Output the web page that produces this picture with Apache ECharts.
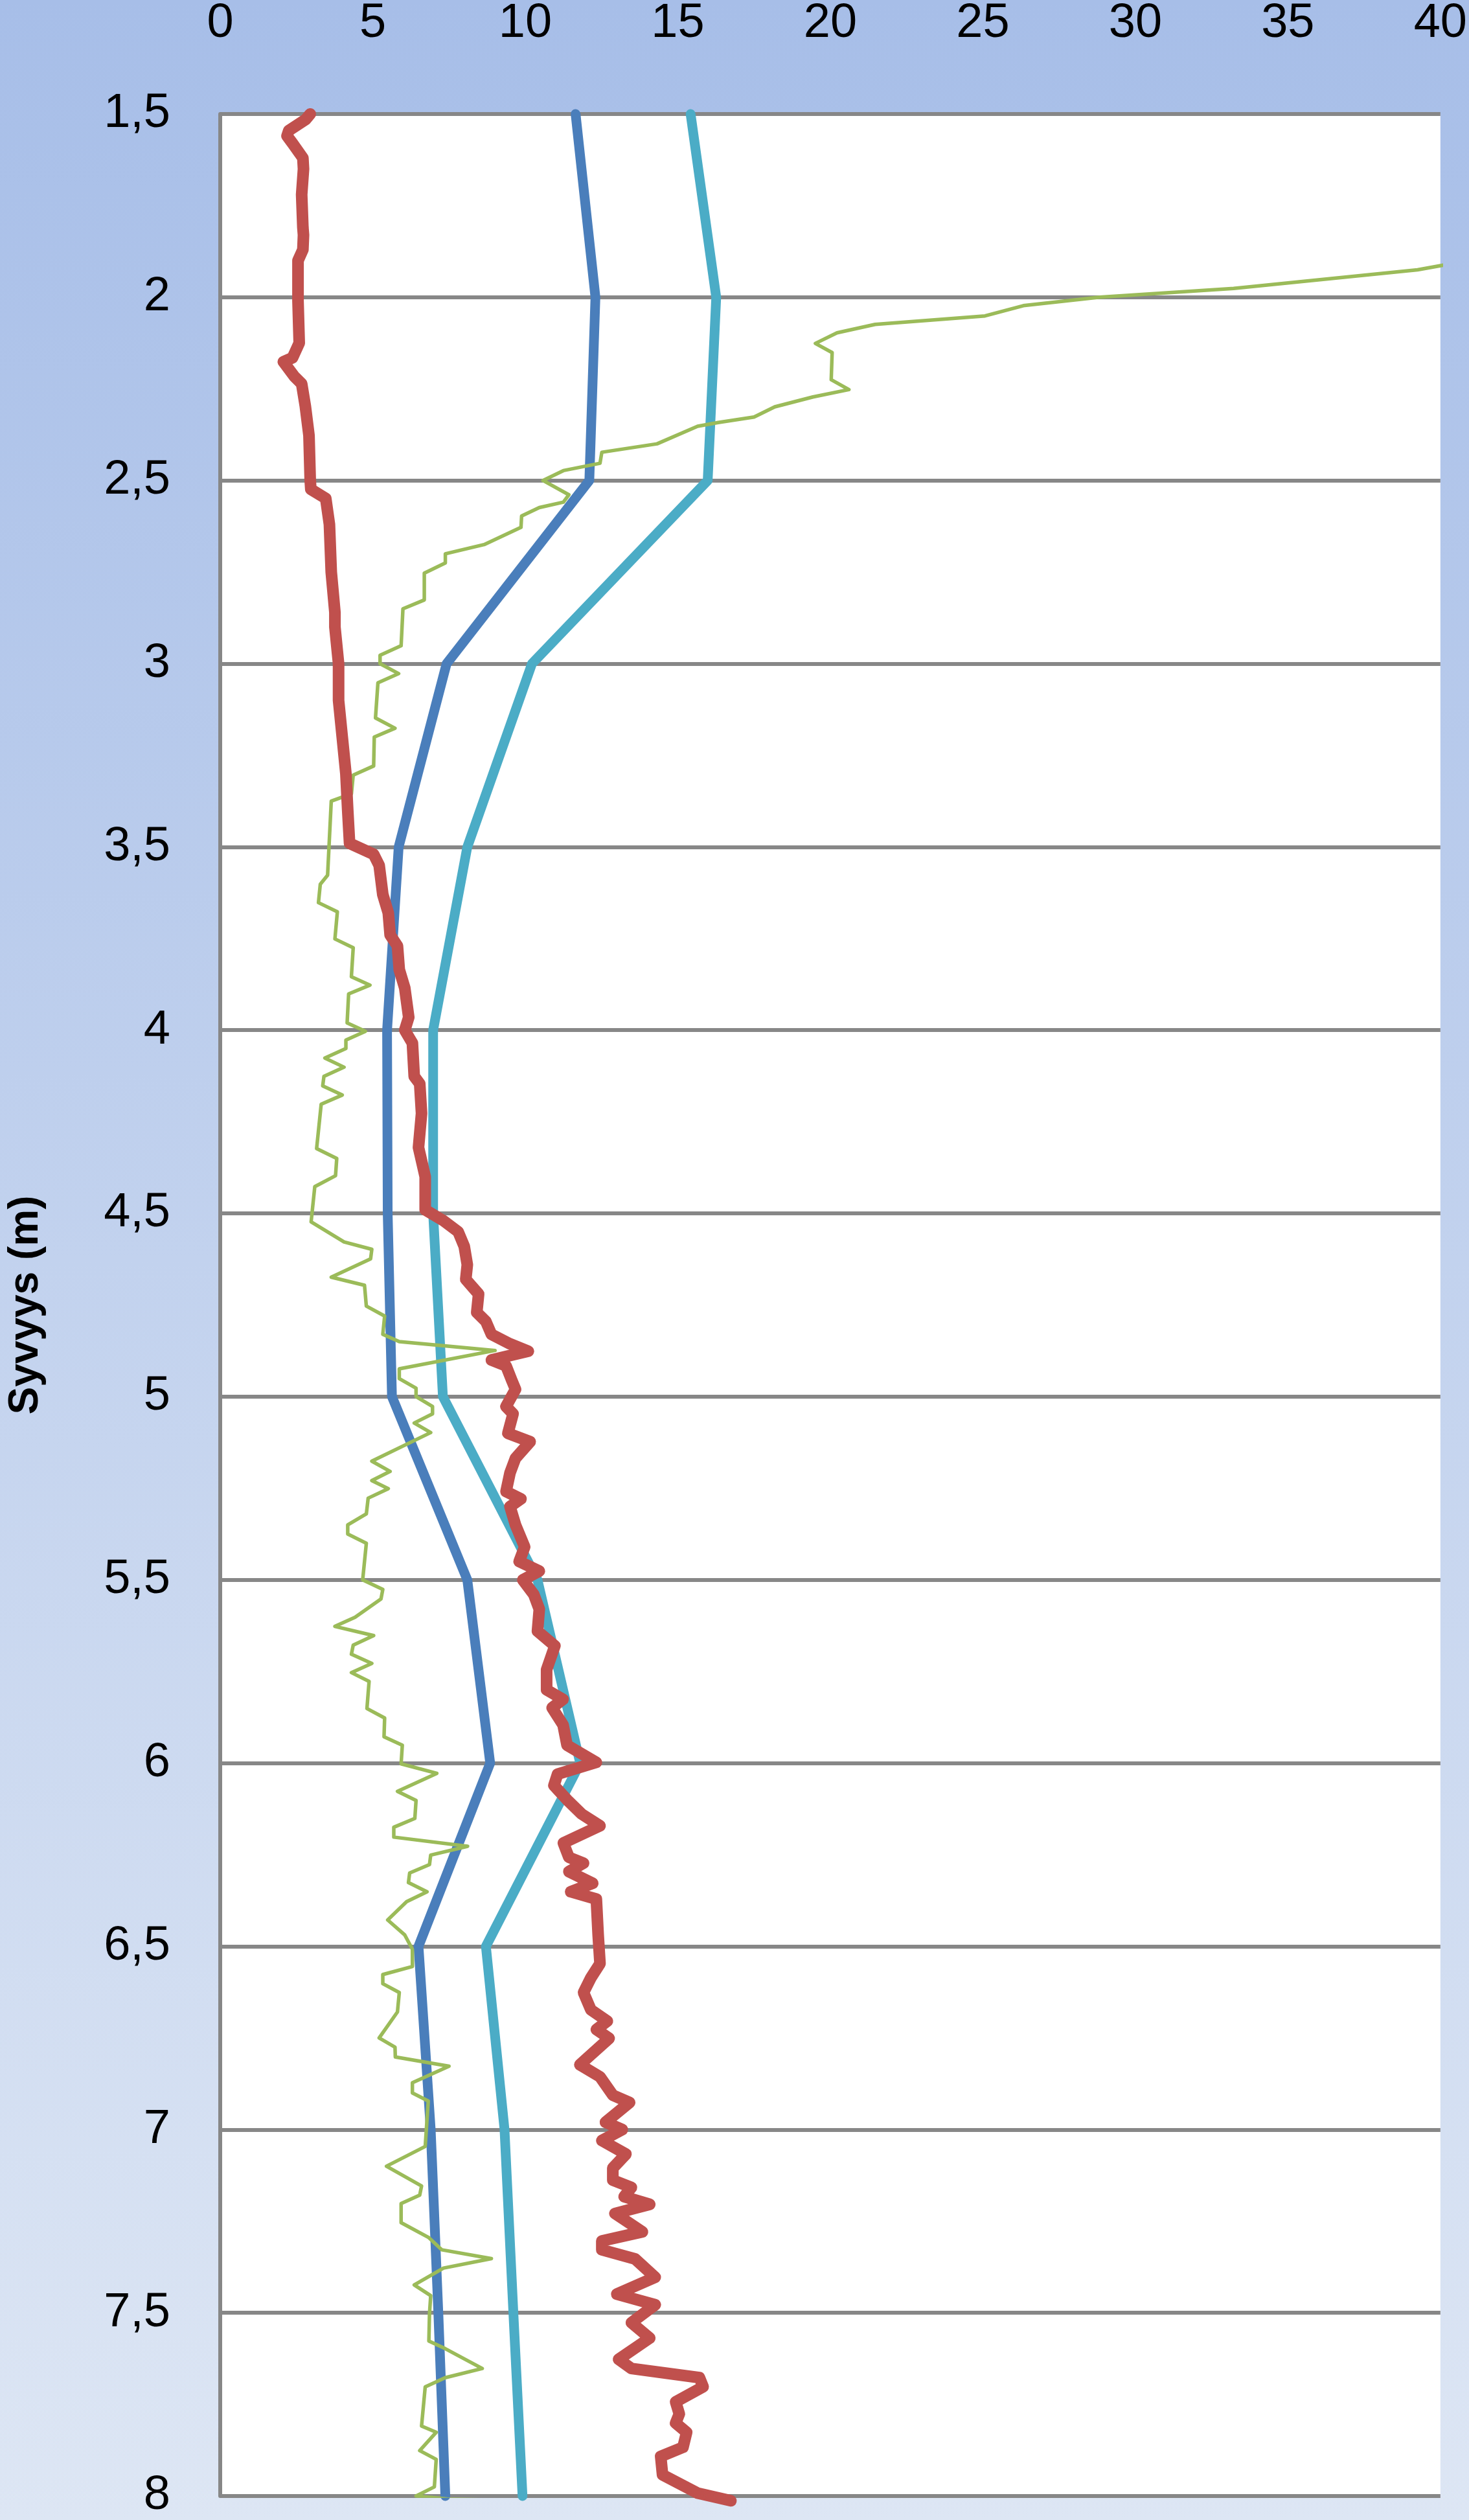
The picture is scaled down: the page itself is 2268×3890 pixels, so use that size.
<!DOCTYPE html>
<html>
<head>
<meta charset="utf-8">
<script src="https://cdn.jsdelivr.net/npm/echarts@6/dist/echarts.min.js"></script>
<style>
html,body{margin:0;padding:0;}
#chart{width:2268px;height:3890px;}
</style>
</head>
<body>
<div id="chart"></div>
<script>
// ---- Data (depth in m) ----
const xTicks = [0, 5, 10, 15, 20, 25, 30, 35, 40];

const blueDepth = [1.5, 2.0, 2.5, 3.0, 3.5, 4.0, 4.5, 5.0, 5.5, 6.0, 6.5, 7.0, 7.5, 8.0];
const blueValue = [11.65, 12.3, 12.1, 7.42, 5.85, 5.47, 5.49, 5.63, 8.1, 8.85, 6.5, 6.9, 7.15, 7.38];

const cyanDepth = [1.5, 2.0, 2.5, 3.0, 3.5, 4.0, 4.5, 5.0, 5.5, 6.0, 6.5, 7.0, 7.5, 8.0];
const cyanValue = [15.42, 16.26, 15.98, 10.22, 8.1, 6.98, 6.98, 7.3, 10.4, 11.8, 8.71, 9.32, 9.61, 9.91];

const redDepth = [1.50,1.515,1.545,1.56,1.58,1.62,1.65,1.72,1.81,1.83,1.87,1.90,2.01,2.125,2.165,2.176,2.216,2.236,2.297,2.377,2.498,2.524,2.549,2.62,2.75,2.86,2.90,3.00,3.10,3.20,3.30,3.40,3.49,3.52,3.55,3.63,3.68,3.74,3.77,3.835,3.885,3.965,4.00,4.035,4.126,4.146,4.227,4.32,4.40,4.49,4.52,4.55,4.59,4.64,4.68,4.72,4.77,4.795,4.83,4.856,4.876,4.90,4.916,4.956,4.98,5.027,5.047,5.10,5.123,5.168,5.208,5.259,5.279,5.30,5.35,5.41,5.45,5.476,5.50,5.54,5.58,5.64,5.68,5.745,5.80,5.826,5.849,5.896,5.951,5.998,6.03,6.061,6.10,6.139,6.171,6.218,6.257,6.273,6.296,6.328,6.351,6.371,6.469,6.547,6.586,6.626,6.673,6.704,6.727,6.751,6.823,6.856,6.906,6.926,6.98,7.0,7.03,7.067,7.105,7.138,7.158,7.183,7.204,7.229,7.279,7.304,7.328,7.353,7.403,7.449,7.478,7.527,7.569,7.627,7.652,7.677,7.702,7.743,7.776,7.801,7.826,7.867,7.892,7.942,7.992,8.013];
const redValue = [2.95,2.80,2.25,2.19,2.37,2.71,2.73,2.67,2.71,2.73,2.71,2.55,2.55,2.59,2.37,2.07,2.43,2.67,2.79,2.91,2.95,2.97,3.46,3.58,3.64,3.76,3.76,3.88,3.88,4.00,4.12,4.18,4.24,5.03,5.21,5.33,5.51,5.57,5.81,5.87,6.05,6.18,6.05,6.30,6.36,6.54,6.60,6.50,6.72,6.72,7.32,7.80,8.00,8.10,8.05,8.47,8.41,8.71,8.89,9.50,10.10,8.89,9.37,9.56,9.68,9.37,9.60,9.43,10.16,9.68,9.50,9.37,9.86,9.50,9.68,9.98,9.80,10.46,9.92,10.28,10.46,10.40,10.97,10.70,10.70,11.24,10.88,11.24,11.37,12.33,11.06,10.94,11.37,11.85,12.45,11.25,11.43,11.91,11.43,12.21,11.49,12.33,12.39,12.45,12.15,11.91,12.15,12.69,12.33,12.75,11.79,12.45,12.87,13.42,12.63,13.18,12.51,13.30,12.87,12.87,13.48,13.24,14.08,12.94,13.84,12.51,12.51,13.60,14.26,13.00,14.26,13.48,14.08,13.06,13.48,15.71,15.83,14.93,15.05,14.93,15.29,15.17,14.44,14.50,15.65,16.74];

const greenDepth = [1.905,1.925,1.976,2.0,2.023,2.051,2.074,2.097,2.126,2.151,2.225,2.252,2.272,2.299,2.327,2.342,2.352,2.40,2.423,2.453,2.473,2.50,2.539,2.559,2.574,2.597,2.628,2.675,2.70,2.725,2.753,2.826,2.85,2.951,2.977,3.0,3.027,3.052,3.148,3.176,3.20,3.279,3.304,3.355,3.375,3.577,3.602,3.652,3.677,3.751,3.775,3.854,3.877,3.901,3.98,4.003,4.027,4.05,4.076,4.101,4.126,4.152,4.177,4.202,4.323,4.35,4.397,4.427,4.523,4.578,4.598,4.624,4.674,4.696,4.753,4.78,4.83,4.85,4.874,4.924,4.951,4.977,5.0,5.027,5.047,5.072,5.098,5.176,5.204,5.229,5.251,5.277,5.32,5.35,5.375,5.40,5.50,5.526,5.552,5.602,5.627,5.652,5.678,5.703,5.728,5.753,5.777,5.851,5.877,5.928,5.951,6.002,6.028,6.077,6.102,6.151,6.175,6.202,6.227,6.251,6.277,6.30,6.326,6.351,6.378,6.428,6.469,6.508,6.555,6.577,6.602,6.626,6.679,6.75,6.775,6.802,6.827,6.872,6.90,6.922,7.046,7.10,7.154,7.179,7.202,7.254,7.295,7.328,7.352,7.378,7.424,7.453,7.503,7.577,7.598,7.652,7.677,7.702,7.809,7.826,7.876,7.90,7.975,8.0,8.008,8.015];
const greenValue = [40.6,39.25,33.22,28.83,26.33,25.07,21.47,20.22,19.51,20.06,20.03,20.61,19.43,18.18,17.5,16.32,15.65,14.32,12.51,12.45,11.25,10.58,11.43,11.25,10.46,9.88,9.86,8.65,7.38,7.38,6.69,6.69,5.99,5.93,5.24,5.24,5.85,5.17,5.09,5.73,5.05,5.03,4.36,4.30,3.64,3.52,3.28,3.22,3.84,3.76,4.36,4.30,4.91,4.21,4.16,4.76,4.12,4.12,3.43,4.06,3.40,3.36,4.00,3.31,3.16,3.82,3.78,3.10,2.98,4.06,4.97,4.93,3.64,4.73,4.79,5.39,5.33,5.87,9.01,5.87,5.87,6.42,6.42,6.96,6.96,6.36,6.90,4.97,5.57,4.97,5.51,4.85,4.79,4.18,4.18,4.79,4.67,5.33,5.27,4.42,3.76,5.03,4.36,4.30,4.97,4.30,4.88,4.81,5.39,5.37,5.97,5.93,7.10,5.81,6.42,6.38,5.69,5.69,8.11,6.90,6.86,6.21,6.17,6.78,6.11,5.49,6.05,6.30,6.30,5.33,5.33,5.87,5.81,5.21,5.73,5.74,7.50,6.30,6.30,6.82,6.72,5.45,6.60,6.54,5.93,5.93,6.84,7.26,8.89,7.32,6.36,6.90,6.86,6.84,7.38,8.59,7.38,6.72,6.60,7.08,6.54,7.08,7.02,6.42,7.44,10.94];

function pairs(vals, depths){ return vals.map((v,i)=>[v, depths[i]]); }

const chart = echarts.init(document.getElementById('chart'), null, {renderer:'canvas'});
const axisGray = '#878787';
const fontFam = 'Liberation Sans, Arial, sans-serif';

chart.setOption({
  animation: false,
  backgroundColor: {
    type: 'linear', x: 0, y: 0, x2: 0, y2: 1,
    colorStops: [{offset: 0, color: '#A7BEE8'}, {offset: 1, color: '#DDE6F4'}]
  },
  grid: {
    left: 325, right: 41, top: 163, bottom: 27,
    show: true, backgroundColor: '#FFFFFF', borderWidth: 0,
    containLabel: false
  },
  xAxis: {
    type: 'value', position: 'top',
    min: xTicks[0], max: xTicks[xTicks.length-1], interval: 5,
    axisLine: {show: false},
    axisTick: {show: false},
    splitLine: {show: false},
    axisLabel: {
      show: true, margin: 102, color: '#000', fontSize: 74, fontFamily: fontFam,
      formatter: v => String(v)
    }
  },
  yAxis: {
    type: 'value', inverse: true,
    min: 1.5, max: 8, interval: 0.5,
    name: 'Syvyys (m)', nameLocation: 'middle', nameRotate: 90, nameGap: 268,
    nameTextStyle: {color: '#000', fontSize: 64, fontWeight: 'bold', fontFamily: fontFam},
    axisLine: {show: true, onZero: false, lineStyle: {color: axisGray, width: 6}},
    axisTick: {show: false},
    splitLine: {show: true, lineStyle: {color: axisGray, width: 6}},
    axisLabel: {
      margin: 77, color: '#000', fontSize: 74, fontFamily: fontFam,
      formatter: v => String(v).replace('.', ',')
    }
  },
  series: [
    {
      name: 'blue', type: 'line', data: pairs(blueValue, blueDepth),
      showSymbol: false, symbol: 'none', clip: false,
      lineStyle: {color: '#4A7EBB', width: 15, cap: 'round', join: 'round'}
    },
    {
      name: 'cyan', type: 'line', data: pairs(cyanValue, cyanDepth),
      showSymbol: false, symbol: 'none', clip: false,
      lineStyle: {color: '#4BACC6', width: 15, cap: 'round', join: 'round'}
    },
    {
      name: 'green', type: 'line', data: pairs(greenValue, greenDepth),
      showSymbol: false, symbol: 'none', clip: true,
      lineStyle: {color: '#9BBB59', width: 5.5, cap: 'round', join: 'round'}
    },
    {
      name: 'red', type: 'line', data: pairs(redValue, redDepth),
      showSymbol: false, symbol: 'none', clip: false,
      lineStyle: {color: '#C0504D', width: 18, cap: 'round', join: 'round'}
    }
  ]
});
</script>
</body>
</html>
